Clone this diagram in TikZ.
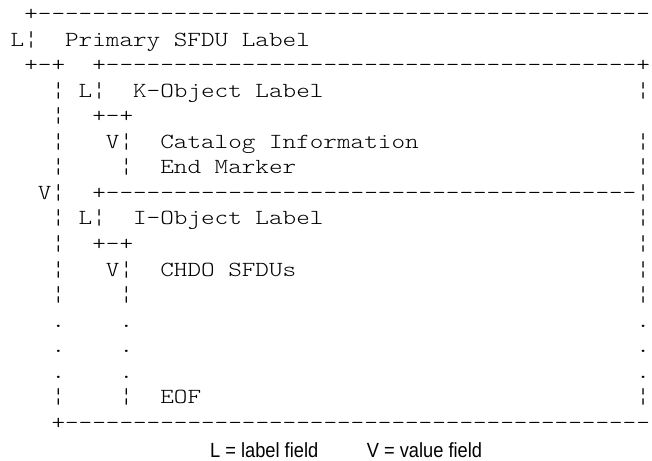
\documentclass[tikz,border=0pt]{standalone}
\usepackage{fontspec}
\newfontfamily\capfont[FakeStretch=0.89]{Liberation Sans}
\newfontfamily\asciifont[FakeStretch=1.205]{lmmonolt10-regular.otf}
\begin{document}
\begin{tikzpicture}[
        ch/.style={anchor=base west,inner sep=0pt,font=\fontsize{21.5}{21.5}\asciifont},
        keytext/.style={anchor=base west,inner sep=0pt,font=\fontsize{20.5}{20.5}\capfont}]
    \useasboundingbox (0,0) rectangle (652pt,-460pt);
    \begin{scope}[shift={(10.5pt,-20.5pt)},x=13.6pt,y=-25.56pt]
        % primary SFDU
        \node[ch] (ptop) at (1,0) {+};
        \foreach \c in {2,...,46} \node[ch] (pt\c) at (\c,0) {-};
        \node[ch] (pl) at (0,1) {L};
        \node[ch] (plbar) at (1,1) {¦};
        \node[ch] (plabel) at (4,1) {Primary SFDU Label};
        \node[ch] (pl1) at (1,2) {+};
        \node[ch] (pl2) at (2,2) {-};
        \node[ch] (pl3) at (3,2) {+};
        \node[ch] (pv) at (2,7) {V};
        \foreach \r in {3,...,11,15} \node[ch] (pvbar\r) at (3,\r) {¦};
        \foreach \r in {12,13,14} \node[ch] (pvdot\r) at (3,\r) {.};
        \node[ch] (pbot) at (3,16) {+};
        \foreach \c in {4,...,46} \node[ch] (pb\c) at (\c,16) {-};
        % right side of the value field
        \node[ch] (ktop) at (6,2) {+};
        \foreach \c in {7,...,45} \node[ch] (kt\c) at (\c,2) {-};
        \node[ch] (ktopr) at (46,2) {+};
        \foreach \r in {3,5,6,7,8,9,10,11,15} \node[ch] (rbar\r) at (46,\r) {¦};
        \foreach \r in {12,13,14} \node[ch] (rdot\r) at (46,\r) {.};
        % K-object
        \node[ch] (kl) at (5,3) {L};
        \node[ch] (klbar) at (6,3) {¦};
        \node[ch] (klabel) at (9,3) {K-Object Label};
        \node[ch] (kl1) at (6,4) {+};
        \node[ch] (kl2) at (7,4) {-};
        \node[ch] (kl3) at (8,4) {+};
        \node[ch] (kv) at (7,5) {V};
        \node[ch] (kvbar5) at (8,5) {¦};
        \node[ch] (kvbar6) at (8,6) {¦};
        \node[ch] (kcat) at (11,5) {Catalog Information};
        \node[ch] (kend) at (11,6) {End Marker};
        % I-object
        \node[ch] (itop) at (6,7) {+};
        \foreach \c in {7,...,45} \node[ch] (it\c) at (\c,7) {-};
        \node[ch] (il) at (5,8) {L};
        \node[ch] (ilbar) at (6,8) {¦};
        \node[ch] (ilabel) at (9,8) {I-Object Label};
        \node[ch] (il1) at (6,9) {+};
        \node[ch] (il2) at (7,9) {-};
        \node[ch] (il3) at (8,9) {+};
        \node[ch] (iv) at (7,10) {V};
        \foreach \r in {10,11,15} \node[ch] (ivbar\r) at (8,\r) {¦};
        \foreach \r in {12,13,14} \node[ch] (ivdot\r) at (8,\r) {.};
        \node[ch] (ichdo) at (11,10) {CHDO SFDUs};
        \node[ch] (ieof) at (11,15) {EOF};
    \end{scope}
    % key
    \node[keytext] (keyl) at (210pt,-457pt) {L = label field};
    \node[keytext] (keyv) at (366.7pt,-457pt) {V = value field};
\end{tikzpicture}
\end{document}
